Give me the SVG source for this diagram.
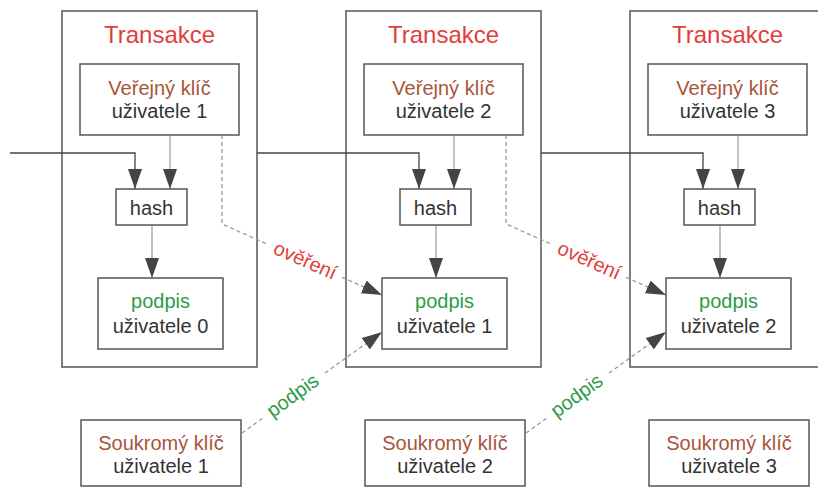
<svg xmlns="http://www.w3.org/2000/svg" width="818" height="487" viewBox="0 0 818 487">
<defs>
<style>
.box{fill:#fff;stroke:#555;stroke-width:1.5}
.outer{fill:none;stroke:#555;stroke-width:1.5}
text{font-family:"Liberation Sans",Arial,sans-serif;font-size:20px;fill:#333;text-anchor:middle}
.title{font-size:24px;fill:#e0403a}
.key{fill:#a8553a}
.sig{fill:#2e9b45}
.red{fill:#e0403a}
.main{fill:none;stroke:#444;stroke-width:1.3}
.thin{fill:none;stroke:#999;stroke-width:1.2}
.dash{fill:none;stroke:#999;stroke-width:1.3;stroke-dasharray:4 3}
</style>
<marker id="arr" viewBox="0 0 20 14" refX="20" refY="7" markerWidth="20" markerHeight="14" markerUnits="userSpaceOnUse" orient="auto">
<path d="M0,0 L20,7 L0,14 z" fill="#444"/>
</marker>
</defs>
<rect width="818" height="487" fill="#fff"/>

<g id="tx1">
<rect class="outer" x="62" y="11" width="195" height="356"/>
<text class="title" x="159.5" y="43">Transakce</text>
</g>
<g id="tx2">
<rect class="outer" x="346" y="11" width="195" height="356"/>
<text class="title" x="443.5" y="43">Transakce</text>
</g>
<g id="tx3">
<rect class="outer" x="630" y="11" width="195" height="356"/>
<text class="title" x="727.5" y="43">Transakce</text>
</g>

<g id="connectors">
<path class="main" d="M10,153 H135 V189" marker-end="url(#arr)"/>
<path class="main" d="M257,153 H419 V189" marker-end="url(#arr)"/>
<path class="main" d="M541,153 H703 V189" marker-end="url(#arr)"/>
<path class="thin" d="M170,135 V189" marker-end="url(#arr)"/>
<path class="thin" d="M454,135 V189" marker-end="url(#arr)"/>
<path class="thin" d="M738,135 V189" marker-end="url(#arr)"/>
<path class="thin" d="M152,225 V278" marker-end="url(#arr)"/>
<path class="thin" d="M436,225 V278" marker-end="url(#arr)"/>
<path class="thin" d="M720,225 V278" marker-end="url(#arr)"/>
<path class="dash" d="M222,135 V224 L268,244.4"/>
<path class="dash" d="M342,277.3 L382,295" marker-end="url(#arr)"/>
<path class="dash" d="M506,135 V224 L552,244.4"/>
<path class="dash" d="M626,277.3 L666,295" marker-end="url(#arr)"/>
<path class="dash" d="M242,433 L263,418"/>
<path class="dash" d="M325,373 L382,332" marker-end="url(#arr)"/>
<path class="dash" d="M526,433 L547,418"/>
<path class="dash" d="M609,373 L666,332" marker-end="url(#arr)"/>
<text class="red" x="305" y="267" transform="rotate(24 305 261)">ověření</text>
<text class="red" x="589" y="267" transform="rotate(24 589 261)">ověření</text>
<text class="sig" x="293" y="402" transform="rotate(-36 293 396)">podpis</text>
<text class="sig" x="577" y="402" transform="rotate(-36 577 396)">podpis</text>
</g>

<g id="pub1">
<rect class="box" x="80" y="64" width="159" height="71"/>
<text class="key" x="159.5" y="95">Veřejný klíč</text>
<text x="159.5" y="118">uživatele 1</text>
</g>
<g id="pub2">
<rect class="box" x="364" y="64" width="159" height="71"/>
<text class="key" x="443.5" y="95">Veřejný klíč</text>
<text x="443.5" y="118">uživatele 2</text>
</g>
<g id="pub3">
<rect class="box" x="648" y="64" width="159" height="71"/>
<text class="key" x="727.5" y="95">Veřejný klíč</text>
<text x="727.5" y="118">uživatele 3</text>
</g>

<g id="hash1">
<rect class="box" x="116" y="189" width="71" height="36"/>
<text x="151.5" y="215">hash</text>
</g>
<g id="hash2">
<rect class="box" x="400" y="189" width="71" height="36"/>
<text x="435.5" y="215">hash</text>
</g>
<g id="hash3">
<rect class="box" x="684" y="189" width="71" height="36"/>
<text x="719.5" y="215">hash</text>
</g>

<g id="sig0">
<rect class="box" x="98" y="278" width="125" height="71"/>
<text class="sig" x="160.5" y="308">podpis</text>
<text x="160.5" y="333">uživatele 0</text>
</g>
<g id="sig1">
<rect class="box" x="382" y="278" width="125" height="71"/>
<text class="sig" x="444.5" y="308">podpis</text>
<text x="444.5" y="333">uživatele 1</text>
</g>
<g id="sig2">
<rect class="box" x="666" y="278" width="125" height="71"/>
<text class="sig" x="728.5" y="308">podpis</text>
<text x="728.5" y="333">uživatele 2</text>
</g>

<g id="priv1">
<rect class="box" x="81" y="420" width="160" height="66"/>
<text class="key" x="161" y="450">Soukromý klíč</text>
<text x="161" y="473">uživatele 1</text>
</g>
<g id="priv2">
<rect class="box" x="365" y="420" width="160" height="66"/>
<text class="key" x="445" y="450">Soukromý klíč</text>
<text x="445" y="473">uživatele 2</text>
</g>
<g id="priv3">
<rect class="box" x="649" y="420" width="160" height="66"/>
<text class="key" x="729" y="450">Soukromý klíč</text>
<text x="729" y="473">uživatele 3</text>
</g>
</svg>
